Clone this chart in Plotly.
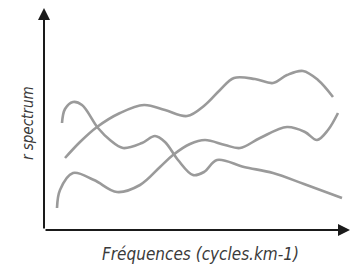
import plotly.graph_objects as go

# Curve values (arbitrary units: x from left axis, y from bottom axis)
curve_a_x = [21, 36, 53, 76, 100, 121, 143, 161, 176, 190, 211, 229, 243, 259, 274, 289]
curve_a_y = [72, 88, 103, 117, 125, 120, 114, 125, 140, 152, 151, 147, 155, 159, 150, 133]

curve_b_x = [18, 21, 29, 38, 54, 66, 79, 98, 111, 121, 134, 149, 160, 173, 200, 229, 260, 298]
curve_b_y = [107, 121, 128, 125, 102, 90, 82, 87, 94, 88, 70, 55, 58, 70, 63, 57, 46, 32]

curve_c_x = [13, 16, 29, 50, 73, 96, 116, 129, 146, 161, 181, 196, 216, 243, 261, 273, 284, 294]
curve_c_y = [22, 40, 57, 50, 38, 45, 63, 75, 86, 90, 85, 82, 92, 103, 98, 90, 100, 117]

x_label = "Fréquences (cycles.km-1)"
y_label = "r spectrum"

fig = go.Figure()
for xs, ys in [(curve_a_x, curve_a_y), (curve_b_x, curve_b_y), (curve_c_x, curve_c_y)]:
    fig.add_trace(go.Scatter(x=xs, y=ys, mode="lines",
                             line=dict(shape="spline", color="#9a9a9a", width=2.6),
                             hoverinfo="skip", showlegend=False))

font_family = "Liberation Sans Narrow, DejaVu Sans Condensed, Roboto, sans-serif"

fig.update_layout(
    width=352, height=268,
    margin=dict(l=44, r=2, t=8, b=38),
    paper_bgcolor="white", plot_bgcolor="white",
    xaxis=dict(range=[0, 306], visible=False, fixedrange=True),
    yaxis=dict(range=[0, 222], visible=False, fixedrange=True),
)
fig.add_annotation(x=0, y=1, xref="paper", yref="paper", ax=0, ay=222,
                   showarrow=True, arrowhead=2, arrowsize=1.2, arrowwidth=2,
                   arrowcolor="#1a1a1a", text="")
fig.add_annotation(x=1, y=0, xref="paper", yref="paper", ax=-306, ay=0,
                   showarrow=True, arrowhead=2, arrowsize=1.2, arrowwidth=2,
                   arrowcolor="#1a1a1a", text="")
fig.add_annotation(x=0.51, y=-0.108, xref="paper", yref="paper", showarrow=False,
                   text=x_label, xanchor="center", yanchor="middle",
                   font=dict(family=font_family, size=17, color="#3a3a3a", style="italic"))
fig.add_annotation(x=-0.052, y=0.482, xref="paper", yref="paper", showarrow=False,
                   text=y_label, textangle=-90, xanchor="center", yanchor="middle",
                   font=dict(family=font_family, size=15, color="#3a3a3a", style="italic"))

fig.write_html("out.html", config={"displayModeBar": False},
               post_script="document.body.style.margin='0';")
